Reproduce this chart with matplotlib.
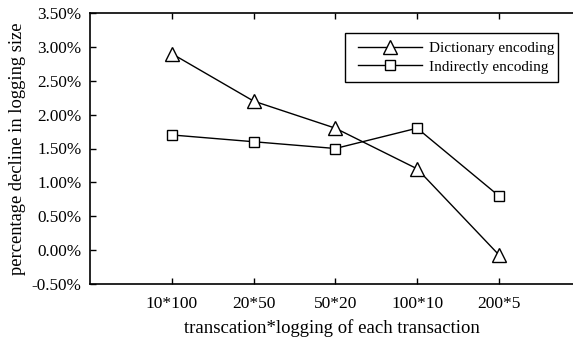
import matplotlib
matplotlib.use("Agg")
import matplotlib.pyplot as plt
from matplotlib.ticker import FuncFormatter
from matplotlib.patches import Rectangle

categories = ["10*100", "20*50", "50*20", "100*10", "200*5"]
dictionary_encoding = [2.9, 2.2, 1.8, 1.2, -0.07]
indirectly_encoding = [1.7, 1.6, 1.5, 1.8, 0.8]
y_ticks = [-0.5, 0.0, 0.5, 1.0, 1.5, 2.0, 2.5, 3.0, 3.5]

plt.rcParams["font.family"] = ["Liberation Serif", "DejaVu Serif"]

W, H = 573, 340
fig = plt.figure(figsize=(W / 100, H / 100), dpi=100)
ax = fig.add_axes([90 / W, 1 - 284 / H, 1 - 90 / W + 0.002, (284 - 13) / H])

x = list(range(1, len(categories) + 1))
ax.plot(x, dictionary_encoding, color="black", lw=1.0, marker="^", markersize=10,
        markerfacecolor="white", markeredgecolor="black", markeredgewidth=1.0,
        label="Dictionary encoding")
ax.plot(x, indirectly_encoding, color="black", lw=1.0, marker="s", markersize=7.3,
        markerfacecolor="white", markeredgecolor="black", markeredgewidth=1.0,
        label="Indirectly encoding")

ax.set_xlim(0, 5.92)
ax.set_ylim(-0.5, 3.5)
ax.set_xticks(x)
ax.set_xticklabels(categories)
ax.set_yticks(y_ticks)
ax.yaxis.set_major_formatter(FuncFormatter(lambda v, p: f"{v:.2f}%"))

ax.tick_params(axis="x", direction="in", top=True, bottom=True, length=4, width=1,
               labelsize=12.5, pad=9)
ax.tick_params(axis="y", direction="in", left=True, right=False, length=4, width=1,
               labelsize=12.3, pad=6)
ax.spines["right"].set_visible(False)
for s in ["left", "bottom", "top"]:
    ax.spines[s].set_linewidth(1.2)

ax.set_xlabel("transcation*logging of each transaction", fontsize=13.5, labelpad=5)
ax.set_ylabel("percentage decline in logging size", fontsize=13.3, labelpad=4)

# legend box drawn as a rectangle in figure pixels
fig.patches.append(Rectangle((345 / W, 1 - 82.3 / H), (558 - 345) / W, (82.3 - 33.3) / H,
                             transform=fig.transFigure, fill=False, edgecolor="black",
                             lw=1.0, zorder=5))
leg = fig.legend(loc="upper left", bbox_to_anchor=(358 / W, 1 - 41.5 / H), fontsize=11.0,
                 frameon=False, handlelength=4.2, borderpad=0.0, labelspacing=0.32,
                 handletextpad=0.45, borderaxespad=0)

fig.savefig("out.png", dpi=100)
